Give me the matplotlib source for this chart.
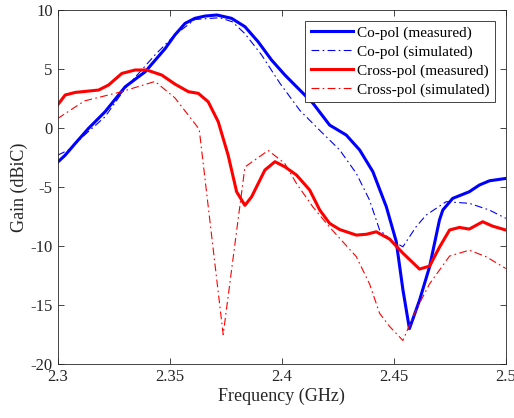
import numpy as np
import matplotlib
matplotlib.use('Agg')
import matplotlib.pyplot as plt

# co-pol, measured
f_co_meas = [2.300, 2.3034, 2.3079, 2.3138, 2.3212, 2.3302, 2.3391, 2.348, 2.3524, 2.3569,
             2.3613, 2.3658, 2.3711, 2.3776, 2.3836, 2.3895, 2.3955, 2.4014, 2.4081, 2.414,
             2.4214, 2.4288, 2.4348, 2.4407, 2.4467, 2.4511, 2.4541, 2.457, 2.4615, 2.466,
             2.4704, 2.4719, 2.4763, 2.4837, 2.4882, 2.4927, 2.500]
g_co_meas = [-2.9, -2.3, -1.3, -0.03, 1.38, 3.5, 4.77, 6.73, 7.9, 8.87,
             9.30, 9.49, 9.58, 9.30, 8.59, 7.31, 5.76, 4.5, 3.22, 2.09,
             0.25, -0.59, -1.86, -3.7, -6.67, -9.6, -13.7, -17.0, -14.6, -11.75,
             -7.8, -6.95, -5.96, -5.40, -4.83, -4.47, -4.27]

# co-pol, simulated
f_co_sim = [2.300, 2.305, 2.312, 2.3212, 2.3302, 2.3435, 2.3524, 2.3613, 2.3724, 2.378,
            2.3836, 2.391, 2.3992, 2.4081, 2.417, 2.4259, 2.4333, 2.4392, 2.4437, 2.4496,
            2.4541, 2.460, 2.4645, 2.4734, 2.4837, 2.4927, 2.500]
g_co_sim = [-2.3, -1.85, -0.6, 0.96, 3.36, 6.2, 7.9, 9.2, 9.35, 9.0,
            8.0, 6.2, 3.8, 1.5, -0.2, -1.86, -3.84, -6.1, -8.64, -9.6,
            -10.06, -8.36, -7.37, -6.24, -6.38, -6.95, -7.65]

# cross-pol, measured
f_x_meas = [2.300, 2.3034, 2.3079, 2.3183, 2.3227, 2.3287, 2.3346, 2.3398, 2.3465, 2.3524,
            2.3584, 2.3628, 2.3672, 2.3717, 2.3761, 2.3799, 2.3836, 2.3866, 2.3925, 2.397,
            2.4014, 2.4066, 2.4125, 2.417, 2.4214, 2.4259, 2.4333, 2.4378, 2.4422, 2.4481,
            2.4541, 2.4615, 2.466, 2.4704, 2.4749, 2.4793, 2.4837, 2.4897, 2.4941, 2.500]
g_x_meas = [1.95, 2.8, 3.02, 3.22, 3.64, 4.63, 4.92, 4.92, 4.49, 3.72,
            3.08, 2.94, 2.23, 0.53, -2.29, -5.40, -6.55, -5.82, -3.56, -2.85,
            -3.28, -3.98, -5.25, -6.95, -8.08, -8.6, -9.07, -9.0, -8.79, -9.4,
            -10.6, -11.95, -11.7, -10.1, -8.64, -8.42, -8.56, -7.94, -8.31, -8.64]

# cross-pol, simulated
f_x_sim = [2.300, 2.312, 2.328, 2.3435, 2.3524, 2.3632, 2.3739, 2.3836, 2.394, 2.4014,
           2.4066, 2.414, 2.4214, 2.4333, 2.4392, 2.4437, 2.4481, 2.4541, 2.460, 2.466,
           2.4749, 2.4837, 2.4912, 2.500]
g_x_sim = [0.8, 2.3, 3.05, 3.95, 2.55, -0.1, -17.5, -3.3, -1.9, -3.0,
           -4.7, -6.7, -8.4, -10.9, -13.2, -15.7, -16.8, -18.0, -15.4, -13.2,
           -10.85, -10.35, -10.9, -11.9]

plt.rcParams['font.family'] = ['Liberation Serif', 'DejaVu Serif']
plt.rcParams['axes.unicode_minus'] = False
plt.rcParams['font.size'] = 12

fig = plt.figure(figsize=(5.14, 4.18), dpi=100)
ax = fig.add_axes([0.112, 0.129, 0.872, 0.847])

ax.plot(f_co_meas, g_co_meas, color='#0000ff', lw=2.2, label='Co-pol (measured)')
ax.plot(f_co_sim, g_co_sim, color='#0000ff', lw=0.8, dashes=(7, 3, 1.5, 3), label='Co-pol (simulated)')
ax.plot(f_x_meas, g_x_meas, color='#ff0000', lw=2.2, label='Cross-pol (measured)')
ax.plot(f_x_sim, g_x_sim, color='#ff0000', lw=0.8, dashes=(7, 3, 1.5, 3), label='Cross-pol (simulated)')

ax.set_xlim(2.3, 2.5)
ax.set_ylim(-20, 10)
ax.set_xticks([2.3, 2.35, 2.4, 2.45, 2.5])
ax.set_xticklabels(['2.3', '2.35', '2.4', '2.45', '2.5'])
ax.set_yticks([-20, -15, -10, -5, 0, 5, 10])
ax.tick_params(direction='in', top=True, right=True, length=4, width=0.6,
               colors='#262626', labelcolor='#262626', labelsize=12)
for s in ax.spines.values():
    s.set_color('#262626')
    s.set_linewidth(0.6)

ax.set_xlabel('Frequency (GHz)', fontsize=13, color='#262626', labelpad=2)
ax.set_ylabel('Gain (dBiC)', fontsize=13, color='#262626', labelpad=2)

leg = ax.legend(loc='upper right', fontsize=11, frameon=True, fancybox=False,
                edgecolor='#262626', framealpha=1, handlelength=2.8,
                borderpad=0.35, labelspacing=0.33, handletextpad=0.25,
                borderaxespad=0.7)
leg.get_frame().set_linewidth(0.6)

fig.savefig('out.png', dpi=100)
